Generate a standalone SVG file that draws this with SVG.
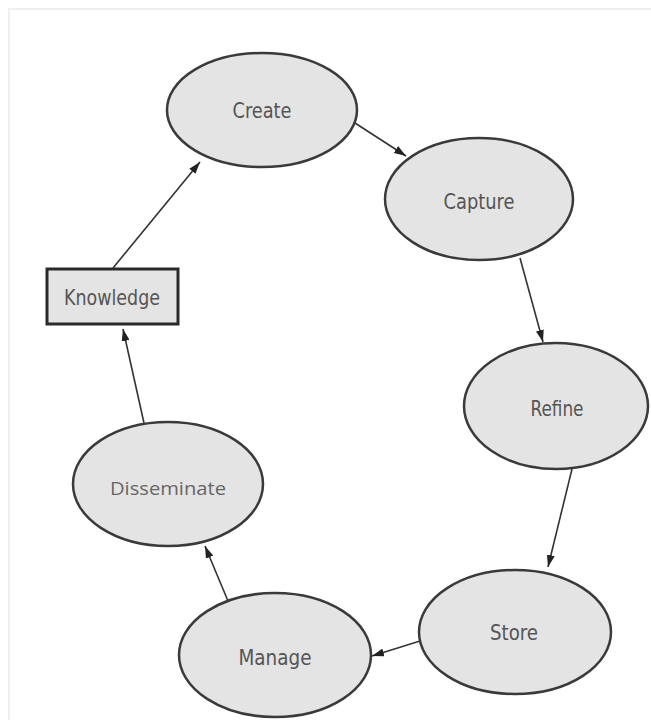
<svg xmlns="http://www.w3.org/2000/svg" width="651" height="720" viewBox="0 0 651 720">
<defs>
<style>
.node ellipse{fill:#e4e4e4;stroke:#3a3a3a;stroke-width:2.5}
.node rect{fill:#e4e4e4;stroke:#2a2a2a;stroke-width:3}
.lbl{font-family:"DejaVu Sans Condensed","DejaVu Sans",sans-serif;font-size:21px;fill:#555;text-anchor:middle;dominant-baseline:central}
.lbl2{font-family:"Open Sans","Liberation Sans",sans-serif;font-size:19px;fill:#666;text-anchor:middle;dominant-baseline:central}
.conn line{stroke:#333;stroke-width:1.6;fill:none;marker-end:url(#ah)}
</style>
<marker id="ah" viewBox="0 0 12 8" refX="12" refY="4" markerWidth="12" markerHeight="8" markerUnits="userSpaceOnUse" orient="auto">
<path d="M0,0 L12,4 L0,8 Z" fill="#222"/>
</marker>
</defs>
<rect width="651" height="720" fill="#fff"/>
<path d="M9,720 V9 H651" fill="none" stroke="#efefef" stroke-width="2"/>
<g class="conn">
<line x1="113" y1="268" x2="200" y2="162"/>
<line x1="355" y1="123" x2="406" y2="156"/>
<line x1="520" y1="258" x2="543" y2="342"/>
<line x1="572" y1="469" x2="548" y2="567"/>
<line x1="420" y1="641" x2="372" y2="656"/>
<line x1="228" y1="601" x2="205" y2="546"/>
<line x1="144" y1="423" x2="123" y2="329"/>
</g>
<g id="create" class="node"><ellipse cx="262" cy="110" rx="95" ry="57"/><text class="lbl" x="262" y="111" textLength="59" lengthAdjust="spacingAndGlyphs">Create</text></g>
<g id="capture" class="node"><ellipse cx="479" cy="199" rx="94" ry="61"/><text class="lbl" x="479" y="202" textLength="71" lengthAdjust="spacingAndGlyphs">Capture</text></g>
<g id="refine" class="node"><ellipse cx="556" cy="406" rx="92" ry="63"/><text class="lbl" x="557" y="409" textLength="53" lengthAdjust="spacingAndGlyphs">Refine</text></g>
<g id="store" class="node"><ellipse cx="515" cy="632" rx="96" ry="62"/><text class="lbl" x="514" y="633" textLength="48" lengthAdjust="spacingAndGlyphs">Store</text></g>
<g id="manage" class="node"><ellipse cx="275" cy="655" rx="96" ry="62"/><text class="lbl" x="275" y="658" textLength="73" lengthAdjust="spacingAndGlyphs">Manage</text></g>
<g id="disseminate" class="node"><ellipse cx="168" cy="484" rx="95" ry="62"/><text class="lbl2" x="168" y="488" textLength="116" lengthAdjust="spacingAndGlyphs">Disseminate</text></g>
<g id="knowledge" class="node"><rect x="47" y="269" width="131" height="55"/><text class="lbl" x="112" y="298" textLength="96" lengthAdjust="spacingAndGlyphs">Knowledge</text></g>
</svg>
